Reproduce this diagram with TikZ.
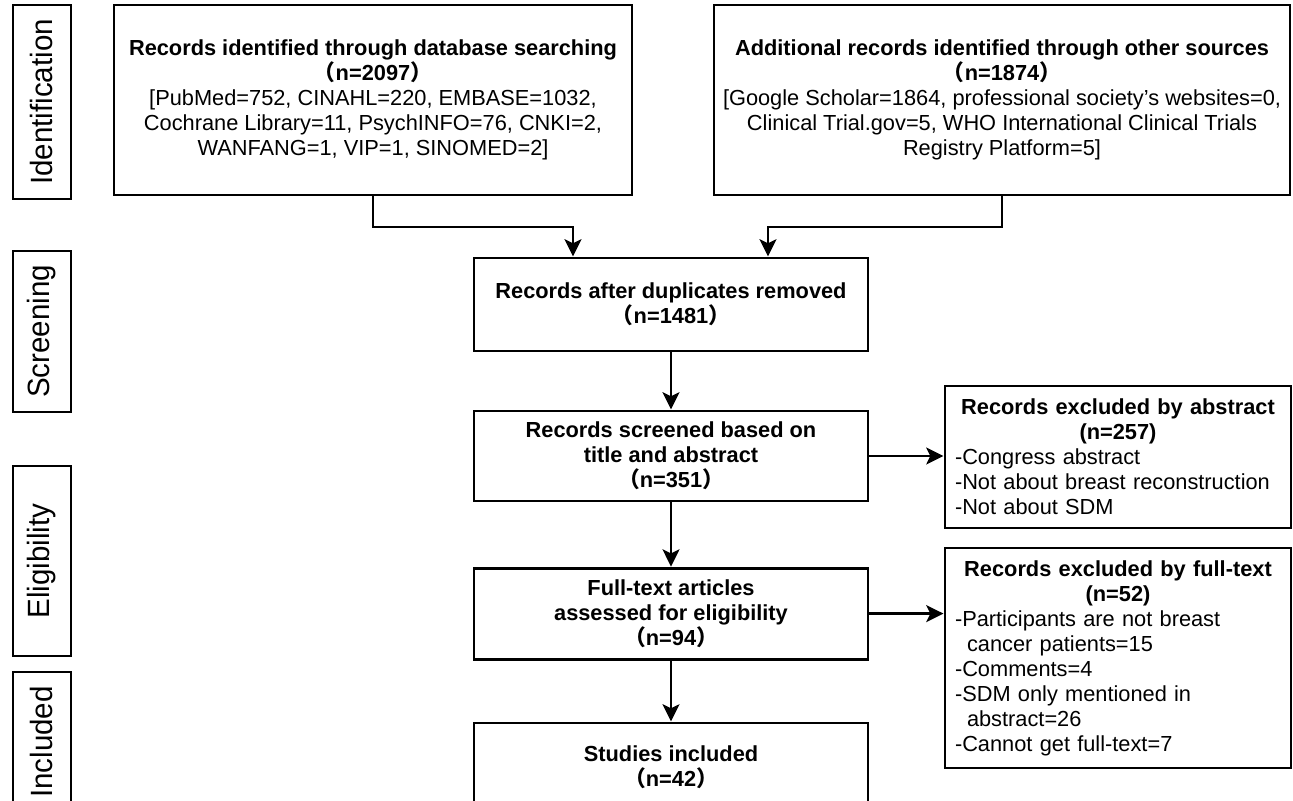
\documentclass[tikz,border=0pt]{standalone}
\usepackage{fontspec}
\setmainfont{Liberation Sans}
\newfontfamily\cjk{Noto Sans CJK SC}
\usetikzlibrary{arrows.meta}
\hyphenpenalty=10000
\newcommand{\lpar}{{\cjk （}}
\newcommand{\rpar}{{\cjk ）}}
\newcommand{\tallword}[1]{\scalebox{1.2}[1.25]{#1}}

\begin{document}
\begin{tikzpicture}[
    box/.style={draw, line width=2.1pt, align=center, inner sep=2pt, font=\fontsize{15.5}{17.8}\selectfont},
    exbox/.style={draw, line width=2.1pt, align=left, inner sep=0.25cm, text width=8.15cm, minimum width=8.65cm, font=\fontsize{15.5}{17.8}\selectfont},
    stage/.style={draw, line width=2.1pt, rotate=90, minimum height=1.45cm, font=\fontsize{17.5}{20}\selectfont},
    link/.style={line width=2.1pt, -{Stealth[length=0.43cm, width=0.42cm, inset=0.1cm]}}
]
\useasboundingbox (0,0) rectangle (32.325,-20);
\clip (0,0) rectangle (32.325,-20);

\node[stage, minimum width=4.85cm] (ident) at (1.05,-2.55) {\tallword{Identification}};
\node[stage, minimum width=4.025cm] (scree) at (1.05,-8.2875) {\tallword{Screening}};
\node[stage, minimum width=4.75cm] (eligi) at (1.05,-14.025) {\tallword{Eligibility}};
\node[stage, minimum width=3.5cm] (inclu) at (1.05,-18.55) {\tallword{Included}};

\node[box, minimum width=12.95cm, minimum height=4.75cm] (db) at (9.325,-2.5)
    {\textbf{Records identified through database searching}\\\textbf{\lpar n=2097\rpar}\\{}[PubMed=752, CINAHL=220, EMBASE=1032,\\Cochrane Library=11, PsychINFO=76, CNKI=2,\\WANFANG=1, VIP=1, SINOMED=2]};
\node[box, minimum width=14.4cm, minimum height=4.75cm] (other) at (25.05,-2.5)
    {\textbf{Additional records identified through other sources}\\\textbf{\lpar n=1874\rpar}\\{}[Google Scholar=1864, professional society's websites=0,\\Clinical Trial.gov=5, WHO International Clinical Trials\\Registry Platform=5]};

\node[box, minimum width=9.85cm, minimum height=2.325cm] (dup) at (16.775,-7.6125)
    {\textbf{Records after duplicates removed}\\\textbf{\lpar n=1481\rpar}};
\node[box, minimum width=9.85cm, minimum height=2.25cm] (screen) at (16.775,-11.4)
    {\textbf{Records screened based on}\\\textbf{title and abstract}\\\textbf{\lpar n=351\rpar}};
\node[box, minimum width=9.85cm, minimum height=2.275cm] (fulltext) at (16.775,-15.34)
    {\textbf{Full-text articles}\\\textbf{assessed for eligibility}\\\textbf{\lpar n=94\rpar}};
\node[box, minimum width=9.85cm, minimum height=2.2cm] (incl) at (16.775,-19.175)
    {\textbf{Studies included}\\\textbf{\lpar n=42\rpar}};

\node[exbox, minimum height=3.55cm] (exab) at (27.95,-11.425)
    {{\centering\textbf{Records excluded by abstract}\\\textbf{(n=257)}\par}
     -Congress abstract\\-Not about breast reconstruction\\-Not about SDM};
\node[exbox, minimum height=5.5cm] (exft) at (27.95,-16.45)
    {{\centering\textbf{Records excluded by full-text}\\\textbf{(n=52)}\par}
     -Participants are not breast\\\hspace*{0.3cm}cancer patients=15\\-Comments=4\\-SDM only mentioned in\\\hspace*{0.3cm}abstract=26\\-Cannot get full-text=7};

\coordinate (jl) at (14.325,-5.675);
\coordinate (jr) at (19.2,-5.675);
\draw[link] (db.south) |- (jl) -- (jl |- dup.north);
\draw[link] (other.south) |- (jr) -- (jr |- dup.north);
\draw[link] (dup.south) -- (screen.north);
\draw[link] (screen.east) -- (screen.east -| exab.west);
\draw[link] (screen.south) -- (fulltext.north);
\draw[link] (fulltext.east) -- (fulltext.east -| exft.west);
\draw[link] (fulltext.south) -- (incl.north);
\end{tikzpicture}
\end{document}
